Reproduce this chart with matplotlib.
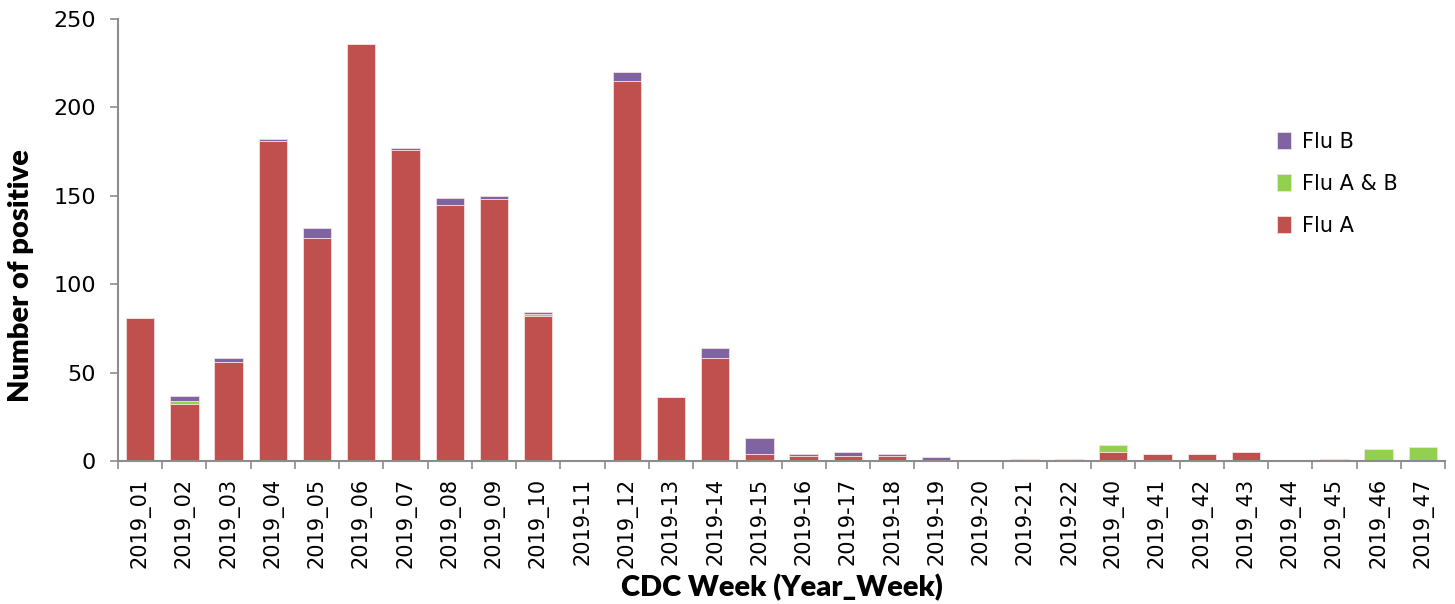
import matplotlib
matplotlib.use("Agg")
import matplotlib.pyplot as plt
import numpy as np

weeks = [
    "2019_01", "2019_02", "2019_03", "2019_04", "2019_05", "2019_06", "2019_07",
    "2019_08", "2019_09", "2019_10", "2019-11", "2019_12", "2019-13", "2019-14",
    "2019-15", "2019-16", "2019-17", "2019-18", "2019-19", "2019-20", "2019-21",
    "2019-22", "2019_40", "2019_41", "2019_42", "2019_43", "2019_44", "2019_45",
    "2019_46", "2019_47",
]
flu_a = [81, 32, 56, 181, 126, 236, 176, 145, 148, 82, 0, 215, 36, 58,
         4, 3, 3, 3, 0, 0, 1, 1, 5, 4, 4, 5, 0, 0, 0, 0]
flu_ab = [0, 2, 0, 0, 0, 0, 0, 0, 0, 1, 0, 0, 0, 0,
          0, 0, 0, 0, 0, 0, 0, 0, 4, 0, 0, 0, 0, 1, 7, 8]
flu_b = [0, 3, 2, 1, 6, 0, 1, 4, 2, 1, 0, 5, 0, 6,
         9, 1, 2, 1, 2, 0, 0, 0, 0, 0, 0, 0, 0, 0, 0, 0]

C_A = "#C0504D"
C_AB = "#92D050"
C_B = "#8064A2"
GRID = "#8c8c8c"

fig = plt.figure(figsize=(14.55, 6.04), dpi=100)
ax = fig.add_axes([118 / 1455, 1 - 461 / 604, (1445 - 118) / 1455, (461 - 19) / 604])

x = np.arange(len(weeks))
a = np.array(flu_a)
ab = np.array(flu_ab)
b = np.array(flu_b)
w = 0.64
kw = dict(width=w, edgecolor="#f4dede", linewidth=0.6)
ha = ax.bar(x, a, color=C_A, label="Flu A", **kw)
hab = ax.bar(x, ab, bottom=a, color=C_AB, label="Flu A & B", **kw)
hb = ax.bar(x, b, bottom=a + ab, color=C_B, label="Flu B", **kw)

ax.set_xlim(-0.5, len(weeks) - 0.5)
ax.set_ylim(0, 250)
ax.set_yticks(range(0, 251, 50))
ax.tick_params(axis="y", labelsize=16, length=6, width=1.2, color=GRID, pad=10)

ax.set_xticks(x)
ax.set_xticklabels(weeks, rotation=90, fontsize=15)
ax.set_xticks(np.arange(-0.5, len(weeks)), minor=True)
ax.tick_params(axis="x", which="major", length=0, pad=12)
ax.tick_params(axis="x", which="minor", length=6, width=1.2, color=GRID)

for s in ("top", "right"):
    ax.spines[s].set_visible(False)
for s in ("left", "bottom"):
    ax.spines[s].set_color(GRID)
    ax.spines[s].set_linewidth(1.5)

ax.set_ylabel("Number of positive", fontsize=21, fontweight="heavy", family="Lato")
ax.yaxis.set_label_coords(-0.063, 0.419)
ax.set_xlabel("CDC Week (Year_Week)", fontsize=21, fontweight="heavy", family="Lato", labelpad=4)

ax.legend([hb, hab, ha], ["Flu B", "Flu A & B", "Flu A"], loc="upper left",
          bbox_to_anchor=(0.859, 0.787), frameon=False, fontsize=15,
          handlelength=0.7, handleheight=0.9, labelspacing=1.05, handletextpad=0.5)

fig.savefig("out.png", dpi=100)
